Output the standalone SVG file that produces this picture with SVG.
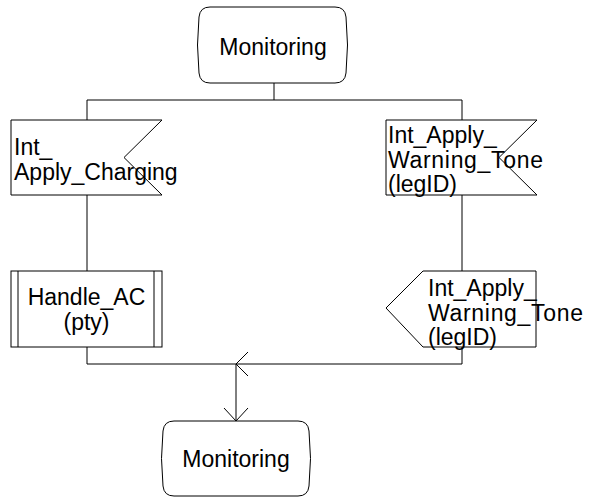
<svg xmlns="http://www.w3.org/2000/svg" width="589" height="497" viewBox="0 0 589 497">
<style>
.s{fill:#fff;stroke:#000;stroke-width:1}
.c{fill:none;stroke:#000;stroke-width:1}
text{font-family:"Liberation Sans",Arial,sans-serif;font-size:23px;fill:#000}
.m{text-anchor:middle}
</style>
<rect width="589" height="497" fill="#fff"/>
<g id="connectors">
<path class="c" d="M274,83V100M87,100H462M87,100V120M462,100V120M87,195V271M462,195V271M87,347V364M462,347V364M87,364H462M236,364V421"/>
<path class="c" d="M248,352L236,364L248,376"/>
<path class="c" d="M224,408L236,421L248,408"/>
</g>
<g id="state_top">
<path class="s" d="M210,7H335Q345,7 346,17Q349,45 346,73Q345,83 335,83H210Q200,83 199,73Q196,45 199,17Q200,7 210,7Z"/>
<text class="m" x="273" y="55">Monitoring</text>
</g>
<g id="in_apply_charging">
<polygon class="s" points="11,120 162,120 124,157.5 162,195 11,195"/>
<text x="14" y="155">Int_</text>
<text x="14" y="180">Apply_Charging</text>
</g>
<g id="in_warning_tone">
<polygon class="s" points="386,120 537,120 499,157.5 537,195 386,195"/>
<text x="388" y="143">Int_Apply_</text>
<text x="388" y="167.5" textLength="155" lengthAdjust="spacing">Warning_Tone</text>
<text x="388" y="192">(legID)</text>
</g>
<g id="proc_handle_ac">
<rect class="s" x="11" y="271" width="151" height="76"/>
<path class="c" d="M18,271V347M154,271V347"/>
<text class="m" x="86.5" y="305">Handle_AC</text>
<text class="m" x="86.5" y="330">(pty)</text>
</g>
<g id="out_warning_tone">
<polygon class="s" points="386,308 423,271 536,271 536,347 423,347"/>
<text x="428" y="295.5">Int_Apply_</text>
<text x="428" y="320.5" textLength="155" lengthAdjust="spacing">Warning_Tone</text>
<text x="428" y="345">(legID)</text>
</g>
<g id="state_bottom">
<path class="s" d="M174,421H298Q308,421 309,431Q312,458.5 309,486Q308,496 298,496H174Q164,496 163,486Q160,458.5 163,431Q164,421 174,421Z"/>
<text class="m" x="236" y="467">Monitoring</text>
</g>
</svg>
